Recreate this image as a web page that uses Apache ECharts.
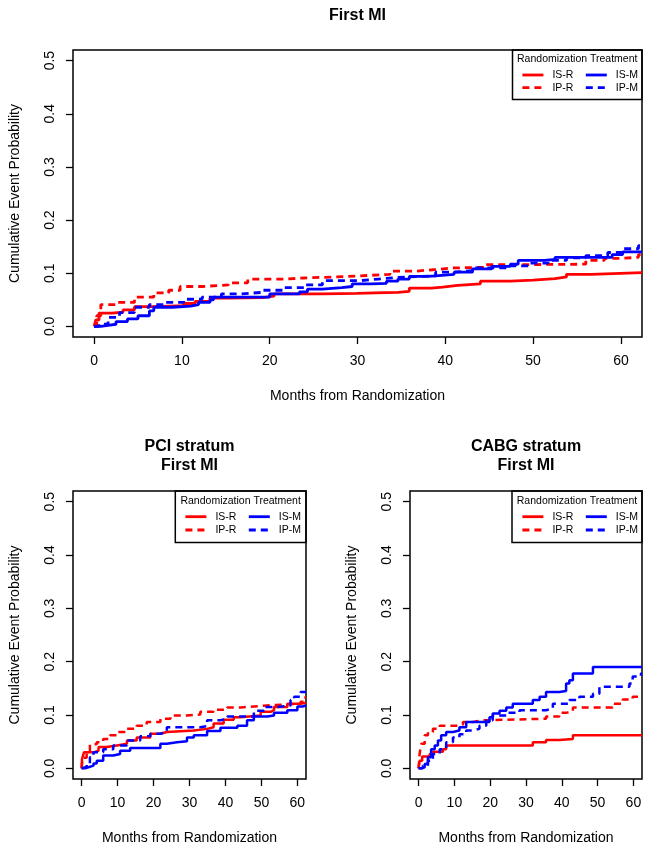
<!DOCTYPE html>
<html><head><meta charset="utf-8">
<script src="https://cdn.jsdelivr.net/npm/echarts@6/dist/echarts.min.js"></script>
<style>html,body{margin:0;padding:0;background:#fff}#c{width:649px;height:853px}</style>
</head><body><div id="c"></div>
<script>
// ---- labels / ticks ----
const xTicks = [0, 10, 20, 30, 40, 50, 60];
const yTicks = [0, 0.1, 0.2, 0.3, 0.4, 0.5];
const panelTitles = ['First MI', 'PCI stratum\nFirst MI', 'CABG stratum\nFirst MI'];
const seriesNames = ['IS-R', 'IS-M', 'IP-R', 'IP-M'];
const xName = 'Months from Randomization';
const yName = 'Cumulative Event Probability';
const legendTitle = 'Randomization Treatment';

// ---- data: [month, cumulative probability] ----
const all_ISR = [[0,0],[0.2,0.012],[0.56,0.025],[2.05,0.027],[3.3,0.031],[4.6,0.037],[6.8,0.039],[10.2,0.043],[11.5,0.047],[13.2,0.053],[15.3,0.054],[19.2,0.057],[20.5,0.061],[26.0,0.062],[29.9,0.063],[32.0,0.064],[34.6,0.066],[35.9,0.072],[38.4,0.074],[39.7,0.077],[41.4,0.080],[44.0,0.085],[47.4,0.087],[50.0,0.090],[52.5,0.093],[53.8,0.098],[56.6,0.101],[62.4,0.101]];
const all_IPR = [[0,0],[0.3,0.020],[0.77,0.041],[2.5,0.045],[4.6,0.055],[6.8,0.063],[8.5,0.068],[9.8,0.075],[12.3,0.078],[15.3,0.082],[17.5,0.089],[21.7,0.091],[23.9,0.093],[27.3,0.095],[30.3,0.098],[33.7,0.104],[36.7,0.107],[38.9,0.110],[41.0,0.111],[44.4,0.116],[47.4,0.117],[56.0,0.124],[58.1,0.128],[60.2,0.130],[62.0,0.135],[62.4,0.135]];
const all_ISM = [[0,0],[0.77,0.002],[1.6,0.004],[2.5,0.009],[3.8,0.014],[5.0,0.020],[6.3,0.029],[6.8,0.036],[8.9,0.038],[11.0,0.041],[11.9,0.045],[13.2,0.050],[13.6,0.055],[20.0,0.061],[23.4,0.065],[24.3,0.070],[26.0,0.073],[28.2,0.075],[29.4,0.080],[31.6,0.081],[33.3,0.085],[34.6,0.089],[35.9,0.094],[38.0,0.095],[38.9,0.098],[41.0,0.102],[43.1,0.108],[45.3,0.113],[47.4,0.117],[48.3,0.124],[51.3,0.126],[52.5,0.130],[59.0,0.135],[60.2,0.140],[62.4,0.140]];
const all_IPM = [[0,0],[0.56,0.004],[1.6,0.017],[2.9,0.026],[4.6,0.036],[6.3,0.041],[8.0,0.045],[10.2,0.051],[12.3,0.055],[14.5,0.061],[16.6,0.064],[19.2,0.068],[21.7,0.073],[23.9,0.078],[26.0,0.086],[30.3,0.089],[32.4,0.092],[34.6,0.095],[38.9,0.102],[41.0,0.105],[43.1,0.110],[47.4,0.114],[49.6,0.119],[51.7,0.124],[53.8,0.129],[56.0,0.133],[58.5,0.139],[60.2,0.146],[62.0,0.152],[62.4,0.152]];

const pci_ISR = [[0,0],[0.1,0.017],[0.65,0.030],[3.3,0.033],[4.7,0.040],[7.0,0.043],[9.8,0.046],[12.6,0.052],[15.3,0.058],[19.1,0.065],[21.9,0.068],[23.7,0.071],[31.2,0.074],[34.9,0.077],[36.7,0.084],[39.5,0.091],[42.3,0.096],[44.2,0.099],[49.8,0.106],[52.6,0.109],[53.5,0.115],[57.2,0.121],[60.9,0.123],[62.4,0.123]];
const pci_IPR = [[0,0],[0.28,0.020],[1.4,0.033],[2.3,0.045],[4.2,0.049],[6.0,0.055],[7.9,0.062],[9.8,0.068],[12.6,0.074],[15.3,0.080],[18.1,0.087],[21.9,0.093],[24.7,0.099],[29.3,0.101],[33.0,0.106],[36.7,0.110],[40.5,0.114],[44.2,0.116],[47.9,0.118],[51.6,0.120],[57.2,0.121],[60.9,0.125],[61.9,0.133],[62.4,0.133]];
const pci_ISM = [[0,0],[0.93,0.002],[1.9,0.005],[3.3,0.009],[4.2,0.014],[6.0,0.024],[8.8,0.027],[10.7,0.033],[13.5,0.038],[21.9,0.046],[23.7,0.049],[26.5,0.051],[29.3,0.058],[31.2,0.062],[34.9,0.070],[38.6,0.076],[43.3,0.080],[46.0,0.090],[47.9,0.097],[51.6,0.099],[53.5,0.104],[57.2,0.109],[60.0,0.116],[61.5,0.118],[62.4,0.118]];
const pci_IPM = [[0,0],[0.47,0.003],[1.4,0.008],[2.3,0.021],[3.3,0.030],[6.0,0.036],[8.8,0.043],[12.6,0.052],[16.3,0.060],[19.1,0.065],[21.9,0.068],[23.7,0.077],[33.0,0.079],[34.9,0.090],[38.6,0.093],[40.5,0.097],[47.9,0.108],[50.7,0.115],[54.4,0.118],[58.1,0.128],[59.1,0.134],[60.9,0.143],[62.4,0.143]];

const cabg_ISR = [[0,0],[0.28,0.014],[1.0,0.022],[3.1,0.027],[4.0,0.031],[6.8,0.036],[7.7,0.043],[31.9,0.049],[35.6,0.053],[39.3,0.055],[43.1,0.062],[62.4,0.062]];
const cabg_IPR = [[0,0],[0.28,0.027],[0.74,0.046],[1.7,0.062],[2.6,0.068],[4.0,0.074],[5.9,0.080],[11.4,0.082],[12.4,0.087],[15.2,0.090],[18.0,0.093],[35.6,0.097],[39.3,0.104],[41.2,0.107],[43.1,0.114],[54.2,0.121],[57.0,0.129],[59.8,0.134],[62.4,0.134]];
const cabg_ISM = [[0,0],[0.74,0.002],[1.7,0.008],[2.6,0.021],[3.5,0.036],[4.5,0.043],[5.4,0.052],[6.3,0.062],[7.7,0.068],[9.6,0.071],[11.4,0.077],[13.3,0.087],[19.8,0.096],[20.7,0.103],[22.6,0.108],[24.5,0.114],[26.3,0.121],[31.9,0.128],[33.8,0.134],[35.6,0.143],[39.3,0.145],[41.2,0.159],[42.1,0.165],[43.1,0.178],[48.7,0.190],[62.4,0.190]];
const cabg_IPM = [[0,0],[1.2,0.005],[2.6,0.014],[4.0,0.027],[5.9,0.036],[7.7,0.049],[9.6,0.058],[11.4,0.064],[13.3,0.071],[15.2,0.074],[17.0,0.080],[18.9,0.090],[20.7,0.099],[24.5,0.104],[28.2,0.109],[35.6,0.112],[37.5,0.121],[42.1,0.128],[44.9,0.134],[48.7,0.140],[50.5,0.153],[58.9,0.159],[59.8,0.172],[62.1,0.178],[62.4,0.178]];

// ---- layout ----
const F = '"Liberation Sans", Arial, sans-serif';
const panels = [
  {grid:{left:73, top:50, width:569, height:287}, titleX:357.5, titleTop:6,
   box:{x:512.5, y:50, w:129.5, h:49.5}, iconX:521, tY:59, r1:75, r2:87.7, yGap:51,
   data:{'IS-R':all_ISR,'IP-R':all_IPR,'IS-M':all_ISM,'IP-M':all_IPM}, lw:2.8},
  {grid:{left:73, top:491, width:233, height:288}, titleX:189.5, titleTop:437.5,
   box:{x:175.3, y:491, w:130.7, h:51.5}, iconX:184, tY:500.7, r1:516.7, r2:530, yGap:51,
   data:{'IS-R':pci_ISR,'IP-R':pci_IPR,'IS-M':pci_ISM,'IP-M':pci_IPM}, lw:2.5},
  {grid:{left:410, top:491, width:232, height:288}, titleX:526, titleTop:437.5,
   box:{x:512, y:491, w:130, h:51.5}, iconX:521, tY:500.7, r1:516.7, r2:530, yGap:51,
   data:{'IS-R':cabg_ISR,'IP-R':cabg_IPR,'IS-M':cabg_ISM,'IP-M':cabg_IPM}, lw:2.5}
];
const colors = {'IS-R':'#ff0000','IP-R':'#ff0000','IS-M':'#0000ff','IP-M':'#0000ff'};
const dashed = {'IS-R':false,'IP-R':true,'IS-M':false,'IP-M':true};

const txt = {color:'#000', fontFamily:F, fontSize:14};
const option = {
  backgroundColor:'#fff', animation:false,
  title: panels.map((p,i)=>({text:panelTitles[i], left:p.titleX, top:p.titleTop, textAlign:'center', padding:0,
    textStyle:{fontSize:16, fontWeight:'bold', fontFamily:F, color:'#000', lineHeight:18.5}})),
  grid: panels.map(p=>Object.assign({show:true, borderColor:'#000', borderWidth:1.5, backgroundColor:'transparent'}, p.grid)),
  xAxis: panels.map((p,i)=>({gridIndex:i, type:'value', min:-2.4, max:62.4,
    axisLine:{show:false, onZero:false},
    axisTick:{show:true, length:7, customValues:xTicks, lineStyle:{color:'#000', width:1.3}},
    axisLabel:Object.assign({customValues:xTicks, margin:17}, txt),
    splitLine:{show:false},
    name:xName, nameLocation:'middle', nameGap:52, nameTextStyle:txt})),
  yAxis: panels.map((p,i)=>({gridIndex:i, type:'value', min:-0.02, max:0.52,
    axisLine:{show:false, onZero:false},
    axisTick:{show:true, length:7, customValues:yTicks, lineStyle:{color:'#000', width:1.3}},
    axisLabel:Object.assign({customValues:yTicks, margin:16, rotate:90, formatter:v=>v.toFixed(1)}, txt),
    splitLine:{show:false},
    name:yName, nameLocation:'middle', nameGap:p.yGap, nameRotate:90, nameTextStyle:txt})),
  legend: [],
  graphic: [],
  series: []
};
panels.forEach((p,i)=>{
  ['IS-R','IP-R','IS-M','IP-M'].forEach(n=>{
    option.series.push({name:n, type:'line', step:'end', xAxisIndex:i, yAxisIndex:i,
      data:p.data[n], symbol:'none', clip:true,
      lineStyle:{color:colors[n], width:p.lw, type:dashed[n]?[7,5]:'solid'},
      itemStyle:{color:colors[n]}});
  });
  [[seriesNames[0],seriesNames[1],p.r1],[seriesNames[2],seriesNames[3],p.r2]].forEach(r=>{
    option.legend.push({data:[r[0],r[1]], left:p.iconX, top:r[2]-6, padding:0, orient:'horizontal',
      itemGap:11, itemWidth:21, itemHeight:12, selectedMode:false,
      itemStyle:{opacity:0, color:'transparent', borderWidth:0},
      lineStyle:{width:2.8},
      textStyle:{fontSize:10.5, fontFamily:F, color:'#000', lineHeight:12, padding:[0,0,0,4]}});
  });
  option.graphic.push({type:'rect', shape:{x:p.box.x, y:p.box.y, width:p.box.w, height:p.box.h},
    style:{fill:'none', stroke:'#000', lineWidth:1.5}});
  option.graphic.push({type:'text', x:p.box.x + p.box.w/2, y:p.tY,
    style:{text:legendTitle, fontSize:10.5, fontFamily:F, fill:'#000',
      textAlign:'center', align:'center', textVerticalAlign:'middle', verticalAlign:'middle'}});
});
const chart = echarts.init(document.getElementById('c'), null, {renderer:'canvas'});
chart.setOption(option);
</script>
</body></html>
